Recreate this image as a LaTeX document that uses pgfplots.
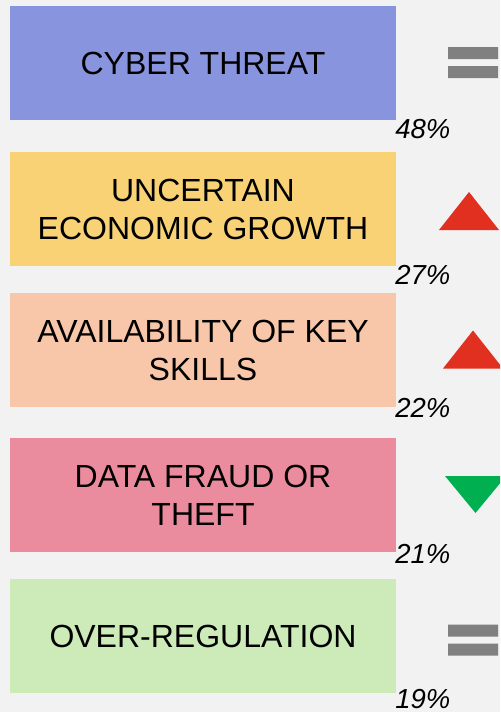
\documentclass[border=0pt]{standalone}
\usepackage{pgfplots}
\pgfplotsset{compat=1.18}
\usepackage{pgfplotstable}
\usepackage{fontspec}
\setmainfont{Liberation Sans}

\definecolor{bgc}{HTML}{F2F2F2}
\definecolor{cyber}{HTML}{8894DE}
\definecolor{econ}{HTML}{F9D276}
\definecolor{skills}{HTML}{F8C6A9}
\definecolor{fraud}{HTML}{EB8C9E}
\definecolor{regul}{HTML}{CDEAB9}
\definecolor{upred}{HTML}{E1301F}
\definecolor{downgreen}{HTML}{00B050}
\definecolor{samegray}{HTML}{808080}

% trend markers, 1px = 0.5pt
\pgfdeclareplotmark{trendsame}{%
  \pgfpathrectangle{\pgfpoint{-12.5pt}{1.75pt}}{\pgfpoint{25pt}{6pt}}%
  \pgfpathrectangle{\pgfpoint{-12.5pt}{-7.75pt}}{\pgfpoint{25pt}{6pt}}%
  \pgfusepathqfill}
\pgfdeclareplotmark{trendup}{%
  \pgfpathmoveto{\pgfpoint{-15pt}{-9.5pt}}%
  \pgfpathlineto{\pgfpoint{15pt}{-9.5pt}}%
  \pgfpathlineto{\pgfpoint{0pt}{9.5pt}}%
  \pgfpathclose\pgfusepathqfill}
\pgfdeclareplotmark{trenddown}{%
  \pgfpathmoveto{\pgfpoint{-15.25pt}{9.25pt}}%
  \pgfpathlineto{\pgfpoint{15.25pt}{9.25pt}}%
  \pgfpathlineto{\pgfpoint{0pt}{-9.25pt}}%
  \pgfpathclose\pgfusepathqfill}

% box centre, share of respondents, label position
\pgfplotstableread{
pos pct labely
63  48  129
209 27  274.5
350 22  408
495 21  554
636 19  699
}\risks

\begin{document}
\begin{tikzpicture}
\begin{axis}[
    scale only axis, width=250pt, height=356pt,
    xmin=-10, xmax=490, ymin=0, ymax=712, y dir=reverse,
    axis line style={draw=none}, ticks=none,
    axis background/.style={fill=bgc},
    clip marker paths=true,
    /pgf/number format/assume math mode=true,
    boxes/.style={xbar, bar shift=0pt, bar width=114, draw=none},
]
\addplot[boxes, fill=cyber]  coordinates {(386,63)};
\addplot[boxes, fill=econ]   coordinates {(386,209)};
\addplot[boxes, fill=skills] coordinates {(386,350)};
\addplot[boxes, fill=fraud]  coordinates {(386,495)};
\addplot[boxes, fill=regul]  coordinates {(386,636)};

% percentages
\addplot[draw=none, mark=none, nodes near coords={\pgfmathprintnumber{\pgfplotspointmeta}\%},
    point meta=explicit,
    every node near coord/.style={anchor=west, inner sep=0pt, text=black,
        font=\fontsize{13.75}{16}\selectfont\itshape}]
    table[x expr=385, y=labely, meta=pct] {\risks};

% trends
\addplot[only marks, mark=trendsame, samegray] coordinates {(463,62.5) (463,640)};
\addplot[only marks, mark=trendup, upred] coordinates {(459,211) (463,349.5)};
\addplot[only marks, mark=trenddown, downgreen] coordinates {(465.5,494.5)};

\begin{scope}[every node/.style={align=center, font=\fontsize{16}{19}\selectfont}]
\node at (axis cs:193,63)  {CYBER THREAT};
\node at (axis cs:193,209) {UNCERTAIN\\ECONOMIC GROWTH};
\node at (axis cs:193,350) {AVAILABILITY OF KEY\\SKILLS};
\node at (axis cs:193,495) {DATA FRAUD OR\\THEFT};
\node at (axis cs:193,636) {OVER-REGULATION};
\end{scope}
\end{axis}
\pgfresetboundingbox
\useasboundingbox (current axis.south west) rectangle (current axis.north east);
\end{tikzpicture}
\end{document}
